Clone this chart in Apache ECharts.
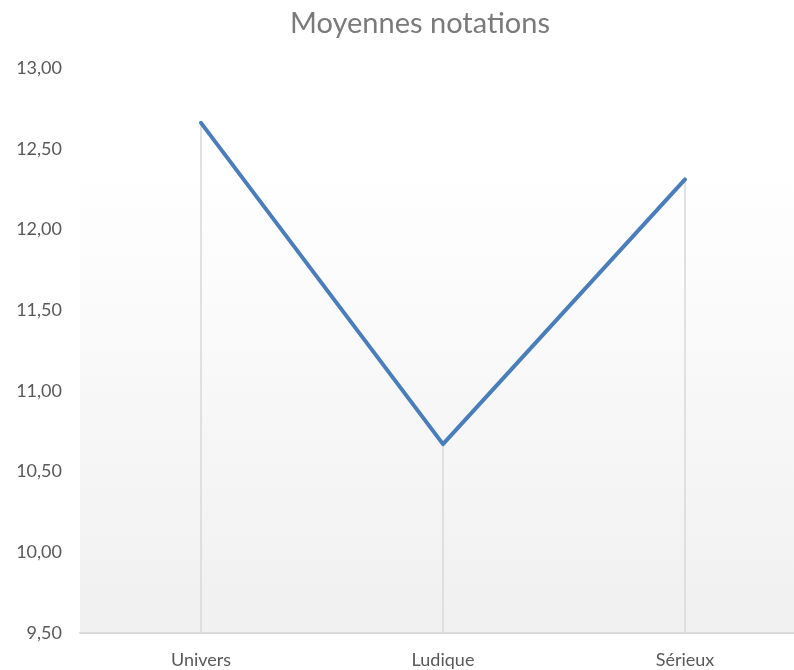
<!DOCTYPE html>
<html>
<head>
<meta charset="utf-8">
<script src="https://cdn.jsdelivr.net/npm/echarts@6/dist/echarts.min.js"></script>
<style>
  html, body { margin: 0; padding: 0; background: #fff; }
  #chart { width: 794px; height: 670px; }
</style>
</head>
<body>
<div id="chart"></div>
<script>
const categories = ["Univers", "Ludique", "Sérieux"];
const moyennes = [12.66, 10.67, 12.31];
const yMin = 9.5;
const yMax = 13;
const yStep = 0.5;

const chart = echarts.init(document.getElementById("chart"));

// drop lines from each point down to the axis
const dropLines = categories.map((c, i) => [
  { coord: [c, moyennes[i]] },
  { coord: [c, yMin] },
]);

chart.setOption({
  backgroundColor: "#fff",
  animation: false,
  title: {
    text: "Moyennes notations",
    left: 415,
    textAlign: "center",
    top: 4,
    textStyle: {
      fontFamily: "Lato",
      fontSize: 29,
      fontWeight: "normal",
      color: "#7a7a7a",
    },
  },
  grid: {
    left: 80,
    width: 726,
    top: 68,
    bottom: 37,
    outerBoundsMode: "none",
    containLabel: false,
    show: true,
    borderWidth: 0,
    backgroundColor: {
      type: "linear",
      x: 0, y: 0, x2: 0, y2: 1,
      colorStops: [
        { offset: 0, color: "#ffffff" },
        { offset: 0.17, color: "#ffffff" },
        { offset: 1, color: "#f0f0f0" },
      ],
    },
  },
  xAxis: {
    type: "category",
    data: categories,
    boundaryGap: true,
    axisLine: { lineStyle: { color: "#d9d9d9", width: 2 } },
    axisTick: { show: false },
    axisLabel: {
      fontFamily: "Lato",
      fontSize: 18,
      color: "#595959",
      margin: 18,
    },
  },
  yAxis: {
    type: "value",
    min: yMin,
    max: yMax,
    interval: yStep,
    axisLine: { show: false },
    axisTick: { show: false },
    splitLine: { show: false },
    axisLabel: {
      fontFamily: "Lato",
      fontSize: 18,
      color: "#595959",
      margin: 18,
      formatter: (v) => v.toFixed(2).replace(".", ","),
    },
  },
  series: [
    {
      type: "line",
      data: moyennes,
      symbol: "none",
      lineStyle: { color: "#4a7ebb", width: 4, cap: "round", join: "round" },
      z: 3,
      markLine: {
        silent: true,
        symbol: "none",
        label: { show: false },
        lineStyle: { color: "#d9d9d9", width: 1.5, type: "solid" },
        data: dropLines,
        z: 1,
      },
    },
  ],
});
</script>
</body>
</html>
